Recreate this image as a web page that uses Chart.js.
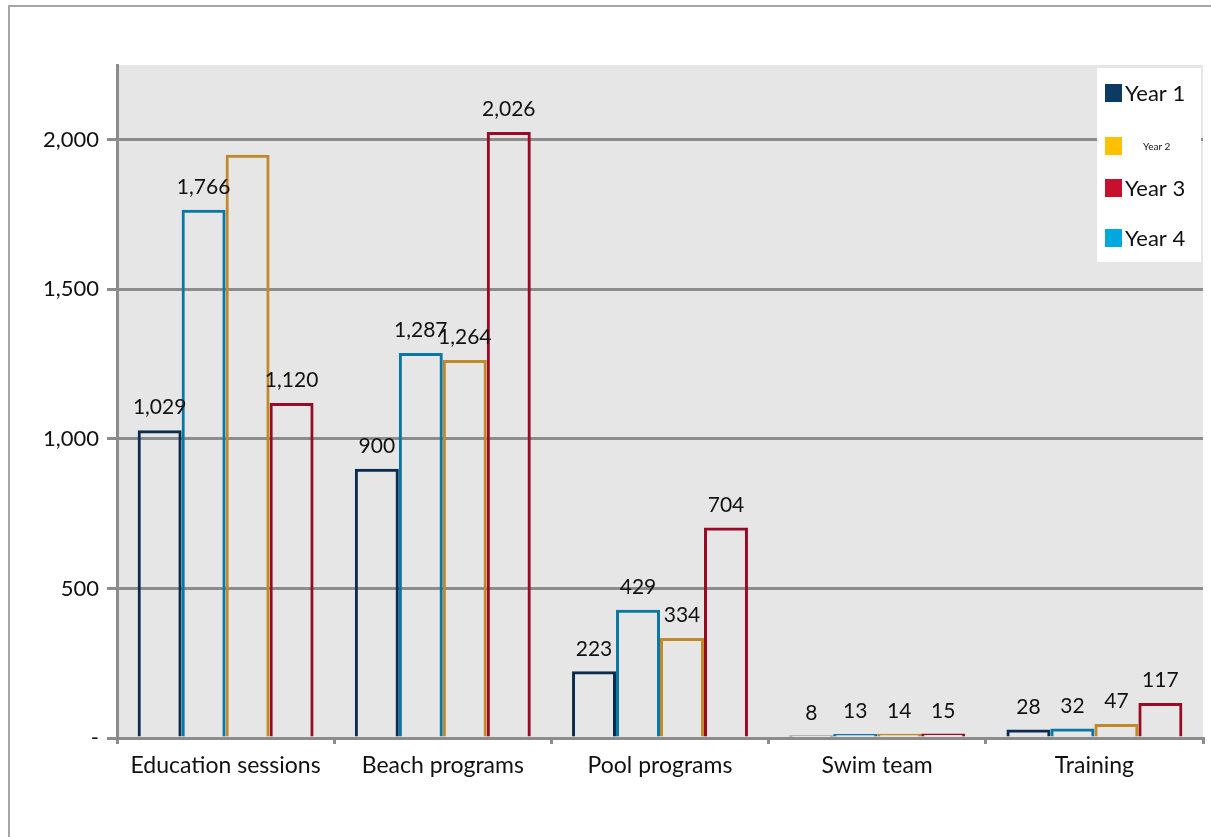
<!DOCTYPE html>
<html>
<head>
<meta charset="utf-8">
<script src="https://cdn.jsdelivr.net/npm/chart.js@4.4.1/dist/chart.umd.min.js"></script>
<style>
  html, body { margin: 0; padding: 0; background: #fff; }
  #frame { position: absolute; left: 8px; top: 5px; width: 1211px; height: 840px; border: 2px solid #a6a6a6; box-sizing: border-box; }
  #wrap { position: absolute; left: 0; top: 0; width: 1211px; height: 837px; }
</style>
</head>
<body>
<div id="frame"></div>
<div id="wrap"><canvas id="myChart"></canvas></div>
<script>
// Dữ liệu biểu đồ
const categories = ["Education sessions", "Beach programs", "Pool programs", "Swim team", "Training"];
const seriesNames = ["Year 1", "Year 2", "Year 3", "Year 4"];
const year1 = [1029, 900, 223, 8, 28];
const year2 = [1766, 1287, 429, 13, 32];
const year3 = [1950, 1264, 334, 14, 47];
const year4 = [1120, 2026, 704, 15, 117];
const yTicks = [0, 500, 1000, 1500, 2000];
// nhãn không hiển thị: [series, category]
const hiddenLabels = [[2, 0]];

const borderColors = ["#0b2c4e", "#0a78a4", "#c08a2a", "#980a26"];
const legendColors = ["#0b3a63", "#ffc000", "#c8102e", "#00a8e0"];
const legendFontSizes = [22, 10, 22, 22];

const FONT = "Lato, 'Liberation Sans', sans-serif";

// Nền xám cho vùng vẽ
const plotBg = {
  id: "plotBg",
  beforeDraw(chart) {
    const { ctx, chartArea: a } = chart;
    ctx.save();
    ctx.fillStyle = "#e6e6e6";
    ctx.fillRect(a.left, a.top, a.right - a.left, a.bottom - a.top);
    ctx.restore();
  },
};

// Nhãn giá trị trên cột
const valueLabels = {
  id: "valueLabels",
  afterDatasetsDraw(chart) {
    const ctx = chart.ctx;
    ctx.save();
    ctx.fillStyle = "#111";
    ctx.font = "21px " + FONT;
    ctx.textAlign = "center";
    ctx.textBaseline = "bottom";
    chart.data.datasets.forEach((ds, i) => {
      chart.getDatasetMeta(i).data.forEach((bar, j) => {
        if (hiddenLabels.some((h) => h[0] === i && h[1] === j)) return;
        ctx.fillText(ds.data[j].toLocaleString("en-US"), bar.x, bar.y - 12);
      });
    });
    ctx.restore();
  },
};

// Chú thích vẽ tay (cỡ chữ khác nhau)
const customLegend = {
  id: "customLegend",
  afterDraw(chart) {
    const ctx = chart.ctx;
    const a = chart.chartArea;
    const x = a.right - 106, y = a.top + 3;
    const rows = [93, 146, 188, 238];
    ctx.save();
    ctx.fillStyle = "#fff";
    ctx.fillRect(x, y, 104, 194);
    seriesNames.forEach((name, i) => {
      ctx.fillStyle = legendColors[i];
      ctx.fillRect(x + 8, rows[i] - 9, 17, 18);
      ctx.fillStyle = "#111";
      ctx.font = legendFontSizes[i] + "px " + FONT;
      ctx.textBaseline = "middle";
      ctx.textAlign = "left";
      ctx.fillText(name, i === 1 ? x + 46 : x + 28, rows[i] + 1);
    });
    ctx.restore();
  },
};

const yearData = [year1, year2, year3, year4];

new Chart(document.getElementById("myChart"), {
  type: "bar",
  data: {
    labels: categories,
    datasets: seriesNames.map((name, i) => ({
      label: name,
      data: yearData[i],
      backgroundColor: "rgba(0,0,0,0)",
      borderColor: borderColors[i],
      borderWidth: 3,
      borderSkipped: "bottom",
      categoryPercentage: 0.81,
      barPercentage: 1,
    })),
  },
  options: {
    responsive: true,
    maintainAspectRatio: false,
    animation: false,
    layout: { padding: { top: 65, right: 8, bottom: 36, left: 0 } },
    plugins: { legend: { display: false }, tooltip: { enabled: false } },
    scales: {
      x: {
        grid: { display: true, drawOnChartArea: false, drawTicks: true, tickLength: 6, color: "#8c8c8c", lineWidth: 3 },
        border: { display: true, color: "#8c8c8c", width: 3 },
        ticks: { color: "#111", font: { family: FONT, size: 23 }, padding: 8 },
        afterFit(scale) { scale.height = 63; },
      },
      y: {
        min: 0,
        max: 2250,
        z: 1,
        afterBuildTicks(scale) { scale.ticks = yTicks.map((v) => ({ value: v })); },
        grid: { color: "#8c8c8c", lineWidth: 3, drawTicks: true, tickLength: 10 },
        border: { display: true, color: "#8c8c8c", width: 3 },
        ticks: {
          color: "#111",
          font: { family: FONT, size: 22 },
          padding: 8,
          callback: (v) => (v === 0 ? "-" : v.toLocaleString("en-US")),
        },
        afterFit(scale) { scale.width = 117; },
      },
    },
  },
  plugins: [plotBg, valueLabels, customLegend],
});
</script>
</body>
</html>
